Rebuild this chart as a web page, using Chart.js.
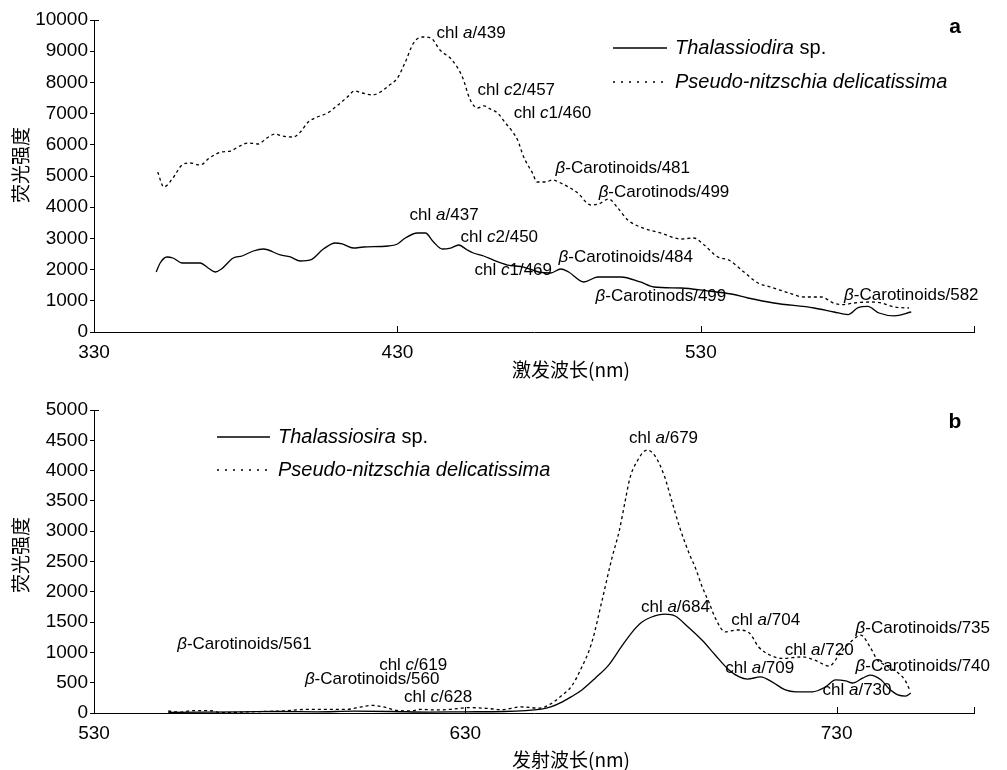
<!DOCTYPE html>
<html><head><meta charset="utf-8">
<script src="https://cdn.jsdelivr.net/npm/chart.js@4.4.0/dist/chart.umd.min.js"></script>
<style>
html,body{margin:0;padding:0;background:#fff;}
#wrap{position:relative;width:1007px;height:770px;overflow:hidden;}
.box{position:absolute;left:0;width:1007px;height:385px;}
</style></head><body>
<div id="wrap">
<div class="box" style="top:0"><canvas id="c1"></canvas></div>
<div class="box" style="top:385px"><canvas id="c2"></canvas></div>
</div>
<script>
// ---------- DATA (a): excitation spectra ----------
const excWlThal = [350.5,351.8,354,356,359,365,367.6,370,372,375.9,378.8,382.5,385.8,391.4,394.7,398,401.3,405.6,409.5,411.8,415.5,418.8,427,430,432.6,436.6,439.2,441.9,444.8,447.5,450.2,453,455,458.4,462,466.3,471.6,476.5,480.5,483.8,486.4,491.4,496,503.6,510,514.5,523.4,532,540,545.5,554,567.3,573.9,578.5,581.8,585,588.7,593.7,599.3];
const excIntThal = [1923,2212,2404,2372,2212,2212,2051,1923,2019,2372,2436,2596,2660,2468,2404,2276,2308,2660,2853,2821,2692,2724,2756,2821,3013,3173,3173,2885,2660,2692,2788,2628,2532,2436,2290,2147,2083,1923,1891,2019,1923,1603,1763,1763,1603,1442,1410,1320,1218,1090,929,769,641,560,780,820,609,520,641];
const excWlPseudo = [351,353,356,359,361.7,365,368,372,375,378,381,384,387,389.7,392,395.6,398,400.6,403.6,406.9,410,413.5,415.8,418.4,421.7,424.4,427,430,432.6,435.3,438.2,441,444,448,451.4,454,456.4,458.5,460.5,463,465.6,468,469.6,471.6,474.5,476,479,481,483.8,489.4,493.7,496.3,499.6,502.6,505.9,510,516.8,523.4,527.7,530.7,535.6,539.2,544.2,548.8,553,559,564,569.6,573.9,577,580.5,586,589.4,593.7,598.6];
const excIntPseudo = [5128,4647,4935,5353,5417,5353,5577,5769,5801,5961,6058,6026,6218,6346,6282,6250,6410,6731,6891,7019,7244,7532,7724,7660,7596,7692,7885,8141,8654,9263,9455,9423,9038,8718,8173,7436,7179,7250,7150,7019,6699,6410,6154,5609,5096,4808,4808,4872,4776,4455,4071,4103,4263,3974,3590,3365,3173,2981,3013,2821,2404,2308,1923,1571,1442,1250,1122,1122,920,880,929,962,929,801,769];
const excTicksX = [330,430,530];

// ---------- DATA (b): emission spectra ----------
const emWlThal = [550,560,570,580,590,600,610,620,630,640.5,650.5,653,656,658.6,661.4,665,668.6,672,675,677.6,680,683.8,686.5,690,693.8,697.3,701,703.8,706,709.5,712.7,716.2,719,723.5,727,729.7,732.4,734.3,737,739,742,744,746.5,748.6,750];
const emIntThal = [10,15,20,25,20,30,25,15,20,25,65,100,180,270,380,575,790,1090,1340,1500,1580,1630,1600,1420,1200,957,710,595,560,595,510,380,350,350,430,545,530,495,575,625,545,410,300,280,330];
const emWlPseudo = [550,553,556.8,562,564,572,581,587.5,598,602,605,608,612,615.4,618,621.6,626,630.8,636,639.7,645,650,653,656,658.6,661,664,666.8,669.5,671.4,673,674.3,676,679,681,683.5,685.7,687.8,690.5,692,693.8,695.7,697.3,700,703.2,706.5,709,712,715.4,720.8,724,728,731,734.3,736.5,739,741,744,748.4,749.7];
const emIntPseudo = [33,15,40,35,5,20,35,60,60,100,125,100,40,35,60,50,60,90,75,55,100,80,150,290,440,710,1150,1850,2560,2990,3480,3870,4125,4340,4250,3930,3480,3050,2600,2390,2080,1815,1570,1340,1370,1320,1090,957,900,925,875,775,990,1200,1285,1090,875,760,545,380];
const emTicksX = [530,630,730];

const FONT = '"Liberation Sans", Arial, Helvetica, sans-serif';
const CJK = '"Noto Sans CJK SC", "Noto Sans", sans-serif';

function drawRich(ctx, text, x, y, size, weight) {
  const parts = text.split('*');
  let cx = x;
  parts.forEach((p, i) => {
    if (!p) return;
    ctx.font = (i % 2 ? 'italic ' : '') + (weight || '') + ' ' + size + 'px ' + FONT;
    ctx.fillText(p, cx, y);
    cx += ctx.measureText(p).width;
  });
}

const decor = {
  id: 'decor',
  afterDraw(chart, args, o) {
    const {ctx, chartArea: a, scales: {x, y}} = chart;
    ctx.save();
    ctx.strokeStyle = '#000';
    ctx.fillStyle = '#000';
    ctx.lineWidth = 1;
    ctx.setLineDash([]);
    // inward x ticks + end tick
    o.xTicks.concat([x.max]).forEach(v => {
      const px = Math.round(x.getPixelForValue(v)) + 0.5;
      ctx.beginPath(); ctx.moveTo(px, a.bottom); ctx.lineTo(px, a.bottom - 6); ctx.stroke();
    });
    // top mark of y axis
    ctx.beginPath(); ctx.moveTo(a.left, Math.round(a.top) + 0.5); ctx.lineTo(a.left + 5, Math.round(a.top) + 0.5); ctx.stroke();
    // annotations
    ctx.textBaseline = 'middle'; ctx.textAlign = 'left';
    o.notes.forEach(n => drawRich(ctx, n.t, x.getPixelForValue(n.x), y.getPixelForValue(n.y), 17));
    // legend
    const L = o.legend;
    ctx.lineWidth = 1.3;
    L.items.forEach((it, i) => {
      const ly = L.y[i];
      ctx.setLineDash(it.dash);
      ctx.beginPath(); ctx.moveTo(L.x1, ly); ctx.lineTo(L.x2, ly); ctx.stroke();
      ctx.setLineDash([]);
      drawRich(ctx, it.t, L.tx, ly, 20);
    });
    // panel letter
    ctx.textAlign = 'center';
    ctx.font = 'bold 21px ' + FONT;
    ctx.fillText(o.letter.t, o.letter.x, o.letter.y);
    // axis titles
    ctx.font = '19px ' + CJK;
    ctx.fillText(o.xTitle.t, o.xTitle.x, o.xTitle.y);
    ctx.translate(o.yTitle.x, o.yTitle.y);
    ctx.rotate(-Math.PI / 2);
    ctx.fillText(o.yTitle.t, 0, 0);
    ctx.restore();
  }
};

function makeChart(id, c) {
  const pts = (xs, ys) => xs.map((v, i) => ({x: v, y: ys[i]}));
  return new Chart(document.getElementById(id), {
    type: 'line',
    data: {datasets: [
      {label: 'solid', data: pts(c.sx, c.sy), borderColor: '#000', borderWidth: 1.3, pointRadius: 0, fill: false, cubicInterpolationMode: 'monotone'},
      {label: 'dashed', data: pts(c.dx, c.dy), borderColor: '#000', borderWidth: 1.3, borderDash: [3, 3], pointRadius: 0, fill: false, cubicInterpolationMode: 'monotone'}
    ]},
    options: {
      responsive: true, maintainAspectRatio: false, animation: false,
      layout: {padding: {left: 0, right: 33, top: c.padTop, bottom: 0}},
      plugins: {legend: {display: false}, tooltip: {enabled: false}, decor: c.decor},
      scales: {
        x: {type: 'linear', min: c.xMin, max: c.xMax,
            afterBuildTicks: ax => { ax.ticks = c.xTicks.map(v => ({value: v})); },
            afterFit: s => { s.height = c.xH; },
            grid: {display: false, drawTicks: false},
            border: {display: true, color: '#000', width: 1},
            ticks: {color: '#000', font: {size: 19, family: FONT}, padding: 9, maxRotation: 0, autoSkip: false, callback: v => String(v)}},
        y: {min: 0, max: c.yMax,
            afterFit: s => { s.width = 94; },
            grid: {drawOnChartArea: false, drawTicks: true, tickLength: 4, color: '#000'},
            border: {display: true, color: '#000', width: 1},
            ticks: {stepSize: c.yStep, color: '#000', font: {size: 19, family: FONT}, padding: 2, autoSkip: false, callback: v => String(v)}}
      }
    },
    plugins: [decor]
  });
}

makeChart('c1', {
  sx: excWlThal, sy: excIntThal, dx: excWlPseudo, dy: excIntPseudo,
  xMin: 330, xMax: 620, xTicks: excTicksX, yMax: 10000, yStep: 1000, padTop: 20, xH: 53,
  decor: {
    xTicks: excTicksX,
    notes: [
      {t: 'chl *a*/439', x: 442.9, y: 9583},
      {t: 'chl *c*2/457', x: 456.4, y: 7756},
      {t: 'chl *c*1/460', x: 468.3, y: 7019},
      {t: '*β*-Carotinoids/481', x: 482.1, y: 5256},
      {t: '*β*-Carotinods/499', x: 496.3, y: 4487},
      {t: 'chl *a*/437', x: 434, y: 3750},
      {t: 'chl *c*2/450', x: 450.8, y: 3045},
      {t: 'chl *c*1/469', x: 455.4, y: 1987},
      {t: '*β*-Carotinoids/484', x: 483.1, y: 2404},
      {t: '*β*-Carotinods/499', x: 495.3, y: 1154},
      {t: '*β*-Carotinoids/582', x: 577.2, y: 1186}
    ],
    legend: {x1: 613, x2: 667, tx: 675, y: [48, 82], items: [
      {t: '*Thalassiodira* sp.', dash: []},
      {t: '*Pseudo-nitzschia delicatissima*', dash: [2, 6]}
    ]},
    letter: {t: 'a', x: 955, y: 27},
    xTitle: {t: '激发波长(nm)', x: 571, y: 370},
    yTitle: {t: '荧光强度', x: 21, y: 165}
  }
});

makeChart('c2', {
  sx: emWlThal, sy: emIntThal, dx: emWlPseudo, dy: emIntPseudo,
  xMin: 530, xMax: 767, xTicks: emTicksX, yMax: 5000, yStep: 500, padTop: 25, xH: 57,
  decor: {
    xTicks: emTicksX,
    notes: [
      {t: 'chl *a*/679', x: 674.1, y: 4538},
      {t: 'chl *a*/684', x: 677.3, y: 1749},
      {t: 'chl *a*/704', x: 701.6, y: 1535},
      {t: '*β*-Carotinoids/735', x: 735.1, y: 1403},
      {t: 'chl *a*/720', x: 716, y: 1040},
      {t: 'chl *a*/709', x: 700, y: 743},
      {t: '*β*-Carotinoids/740', x: 735.1, y: 776},
      {t: 'chl *a*/730', x: 726.2, y: 380},
      {t: '*β*-Carotinoids/561', x: 552.4, y: 1139},
      {t: 'chl *c*/619', x: 606.8, y: 792},
      {t: '*β*-Carotinoids/560', x: 586.8, y: 561},
      {t: 'chl *c*/628', x: 613.5, y: 264}
    ],
    legend: {x1: 217, x2: 270, tx: 278, y: [52, 85], items: [
      {t: '*Thalassiosira* sp.', dash: []},
      {t: '*Pseudo-nitzschia delicatissima*', dash: [2, 6]}
    ]},
    letter: {t: 'b', x: 955, y: 37},
    xTitle: {t: '发射波长(nm)', x: 571, y: 375},
    yTitle: {t: '荧光强度', x: 21, y: 170}
  }
});
</script>
</body></html>
